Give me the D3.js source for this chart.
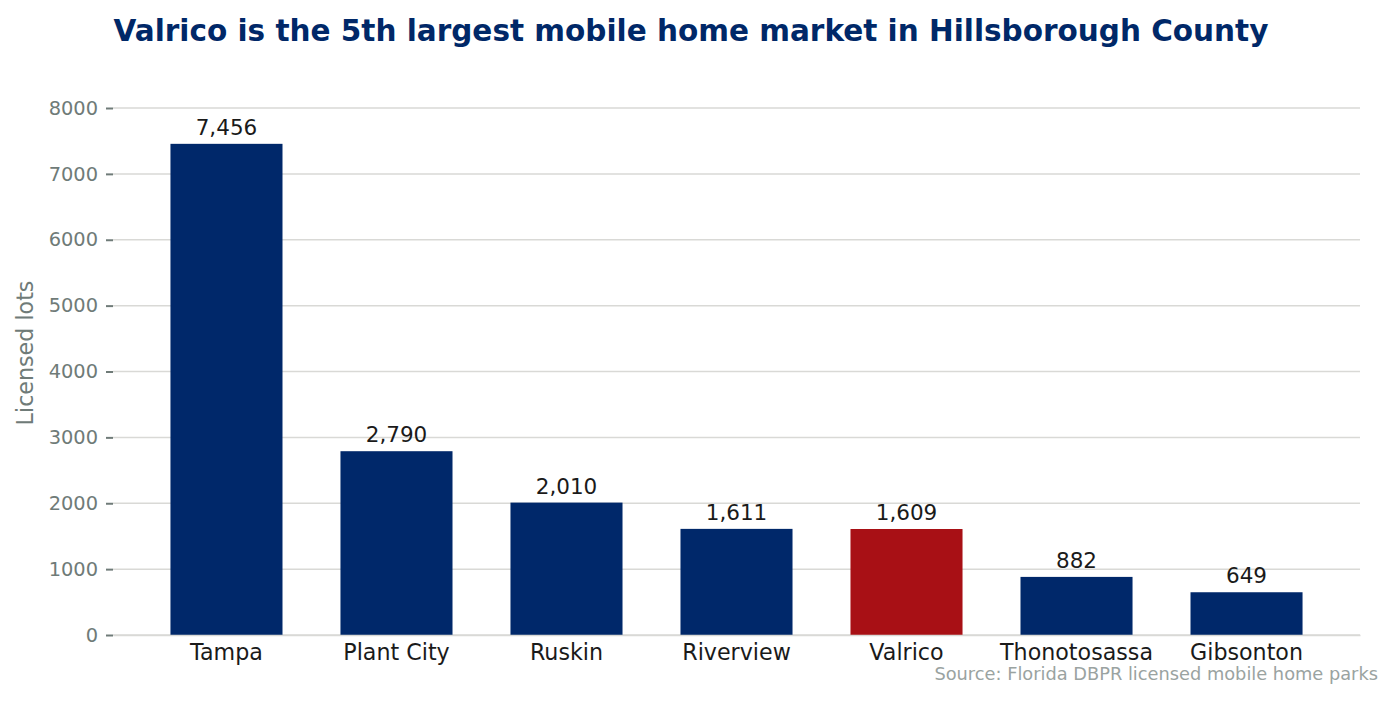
<!DOCTYPE html>
<html lang="en">
<head>
    <meta charset="UTF-8">
    <title>Valrico mobile home market</title>
    <script src="https://d3js.org/d3.v7.min.js"></script>
    <style>
        body { margin: 0; background: #fff; }
        text { font-family: "DejaVu Sans", sans-serif; }
    </style>
</head>
<body>

<svg id="chart" width="1395" height="701"></svg>
<script>

    const cities = ["Tampa", "Plant City", "Ruskin", "Riverview", "Valrico", "Thonotosassa", "Gibsonton"];
    const lots = [7456, 2790, 2010, 1611, 1609, 882, 649];
    const yTicks = [0, 1000, 2000, 3000, 4000, 5000, 6000, 7000, 8000];
    const highlight = "Valrico";

    const navy = "#00286a";
    const red = "#a81015";

    const svg = d3.select("#chart");

    const plotLeft = 113, plotRight = 1360, plotTop = 108, plotBottom = 635;

    const x = d3.scaleBand()
        .domain(cities)
        .range([plotLeft, plotRight])
        .paddingInner(0.341)
        .paddingOuter(0.338);

    const y = d3.scaleLinear()
        .domain([0, 8000])
        .range([plotBottom, plotTop]);

    // gridlines
    svg.append("g")
        .selectAll("line")
        .data(yTicks)
        .enter()
        .append("line")
        .attr("x1", plotLeft)
        .attr("x2", plotRight)
        .attr("y1", d => y(d))
        .attr("y2", d => y(d))
        .attr("stroke", "#d9d9d6")
        .attr("stroke-width", 1.5);

    // y axis
    const yAxis = svg.append("g")
        .attr("transform", `translate(${plotLeft},0)`)
        .call(d3.axisLeft(y).tickValues(yTicks).tickFormat(d3.format("d")).tickSize(7).tickPadding(8));
    yAxis.select(".domain").remove();
    yAxis.selectAll(".tick line").attr("stroke", "#6f7b78").attr("stroke-width", 2);
    yAxis.selectAll(".tick text")
        .attr("fill", "#6f7b78")
        .style("font-size", "19.4px")
        .style("font-family", "DejaVu Sans");

    // bars
    svg.append("g")
        .selectAll("rect")
        .data(cities)
        .enter()
        .append("rect")
        .attr("x", d => x(d))
        .attr("y", (d, i) => y(lots[i]))
        .attr("width", x.bandwidth())
        .attr("height", (d, i) => y(0) - y(lots[i]))
        .attr("fill", d => d === highlight ? red : navy);

    // value labels
    svg.append("g")
        .selectAll("text")
        .data(cities)
        .enter()
        .append("text")
        .attr("x", d => x(d) + x.bandwidth() / 2)
        .attr("y", (d, i) => y(lots[i]) - 9)
        .attr("text-anchor", "middle")
        .attr("fill", "#1a1a1a")
        .style("font-size", "21.5px")
        .text((d, i) => d3.format(",")(lots[i]));

    // x axis
    const xAxis = svg.append("g")
        .attr("transform", `translate(0,${plotBottom})`)
        .call(d3.axisBottom(x).tickSize(0).tickPadding(9));
    xAxis.select(".domain").attr("stroke", "#d9d9d6").attr("stroke-width", 1.5);
    xAxis.selectAll(".tick text")
        .attr("fill", "#1a1a1a")
        .attr("dy", "0.71em")
        .style("font-size", "22.2px")
        .style("font-family", "DejaVu Sans");

    // title
    svg.append("text")
        .attr("x", 691)
        .attr("y", 41)
        .attr("text-anchor", "middle")
        .attr("fill", "#002868")
        .style("font-size", "29.5px")
        .style("font-weight", "bold")
        .text("Valrico is the 5th largest mobile home market in Hillsborough County");

    // y label
    svg.append("text")
        .attr("transform", "translate(33,353) rotate(-90)")
        .attr("text-anchor", "middle")
        .attr("fill", "#6f7b78")
        .style("font-size", "22.2px")
        .text("Licensed lots");

    // source
    svg.append("text")
        .attr("x", 1378)
        .attr("y", 680)
        .attr("text-anchor", "end")
        .attr("fill", "#9aa3a1")
        .style("font-size", "17.8px")
        .text("Source: Florida DBPR licensed mobile home parks");

</script>

</body>
</html>
